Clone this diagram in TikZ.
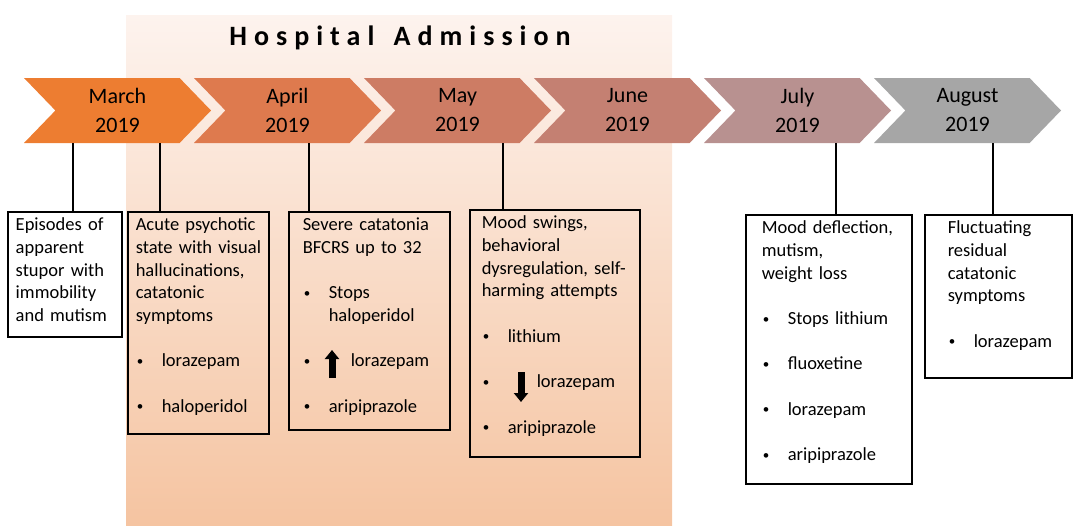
\documentclass[tikz,border=0pt]{standalone}
\usepackage{fontspec}
\setmainfont{Carlito}
\usepackage{tikz}
\usetikzlibrary{shapes.symbols,arrows.meta,positioning}
\definecolor{cmar}{RGB}{237,125,49}
\definecolor{capr}{RGB}{222,122,78}
\definecolor{cmay}{RGB}{205,124,100}
\definecolor{cjun}{RGB}{196,128,114}
\definecolor{cjul}{RGB}{184,145,144}
\definecolor{caug}{RGB}{166,166,166}
\definecolor{bgtop}{RGB}{253,243,238}
\definecolor{bgbot}{RGB}{245,196,161}
\newcommand{\bul}[1][26pt]{\makebox[#1][l]{\hspace{1pt}\raisebox{1.5pt}{\fontsize{13}{13}\selectfont\textbullet}}}

\begin{document}
\begin{tikzpicture}[x=1pt, y=-1pt, node distance =170pt, on grid,
month/.style={signal, signal to=east, signal from=west, signal pointer angle=92,
  minimum width=187pt, minimum height=65pt, inner sep=0pt, align=center,
  font=\fontsize{22}{29}\selectfont},
event/.style={draw, line width=1.5pt, anchor=north west, align=left, inner ysep=5pt,
  text height=14pt, font=\fontsize{18.5}{22.7}\selectfont},
link/.style={line width=1.5pt},
blockarrow/.style={line width=7pt, -{Triangle[width=14pt, length=9pt]}}]
\useasboundingbox (0,0) rectangle (1084,531);
\fill[top color=bgtop, bottom color=bgbot] (126,15) rectangle (672,525);
\node [anchor=base, font=\fontsize{28}{34}\selectfont\bfseries\addfontfeatures{LetterSpace=25}] (title) at (400,45) {Hospital\hspace{6pt} Admission};
% months
\node [month, fill=cmar] (mar) at (117.5,110.5) {March\\2019};
\node [month, fill=capr] (apr) [right = of mar] {April\\2019};
\node [month, fill=cmay] (may) [right = of apr] {May\\2019};
\node [month, fill=cjun] (jun) [right = of may] {June\\2019};
\node [month, fill=cjul] (jul) [right = of jun] {July\\2019};
\node [month, fill=caug] (aug) [right = of jul] {August\\2019};
% events
\node [event, fill=white, text width=98pt, inner xsep=8pt, text depth=101pt] (b1) at (7,211)
 {Episodes of\\ apparent\\ stupor with\\ immobility\\ and mutism};
\node [event, text width=125pt, inner xsep=8pt, text depth=198pt] (b2) at (127,211)
 {Acute psychotic\\ \mbox{state with visual}\\ hallucinations,\\ catatonic\\ symptoms\\[22.7pt]
  \bul lorazepam\\[22.7pt] \bul haloperidol};
\node [event, text width=133pt, inner xsep=14pt, text depth=194pt] (b3) at (288,211)
 {\mbox{Severe catatonia}\\ BFCRS up to 32\\[22.7pt] \bul Stops\\ \hspace*{26pt}haloperidol\\[22.7pt]
  \bul[48pt]lorazepam\\[22.7pt] \bul aripiprazole};
\node [event, text width=146pt, inner xsep=12pt, text depth=223pt] (b4) at (469,209)
 {Mood swings,\\ behavioral\\ \mbox{dysregulation, self-}\\ harming attempts\\[22.7pt]
  \bul lithium\\[22.7pt] \bul[55pt]lorazepam\\[22.7pt] \bul aripiprazole};
\node [event, fill=white, text width=134pt, inner xsep=16pt, text depth=245pt] (b5) at (745,214)
 {\mbox{Mood deflection,}\\ mutism,\\ weight loss\\[22.7pt] \bul Stops lithium\\[22.7pt]
  \bul fluoxetine\\[22.7pt] \bul lorazepam\\[22.7pt] \bul aripiprazole};
\node [event, fill=white, text width=101pt, inner xsep=23pt, text depth=139pt] (b6) at (924,214)
 {Fluctuating\\ residual\\ catatonic\\ symptoms\\[22.7pt] \bul lorazepam};
% dose arrows
\coordinate (up3a) at (332,378);
\coordinate (up3b) at (332,350);
\coordinate (dn4a) at (521,372);
\coordinate (dn4b) at (521,402);
\draw [blockarrow] (up3a) -- (up3b);
\draw [blockarrow] (dn4a) -- (dn4b);
% links
\draw [link] ([xshift=8pt]b1.north) -- ([xshift=8pt]b1.north |- mar.south);
\draw [link] ([xshift=-38.5pt]b2.north) -- ([xshift=-38.5pt]b2.north |- mar.south);
\draw [link] ([xshift=-60.5pt]b3.north) -- ([xshift=-60.5pt]b3.north |- apr.south);
\draw [link] ([xshift=-52pt]b4.north) -- ([xshift=-52pt]b4.north |- may.south);
\draw [link] ([xshift=7pt]b5.north) -- ([xshift=7pt]b5.north |- jul.south);
\draw [link] ([xshift=-5.5pt]b6.north) -- ([xshift=-5.5pt]b6.north |- aug.south);
\end{tikzpicture}
\end{document}
